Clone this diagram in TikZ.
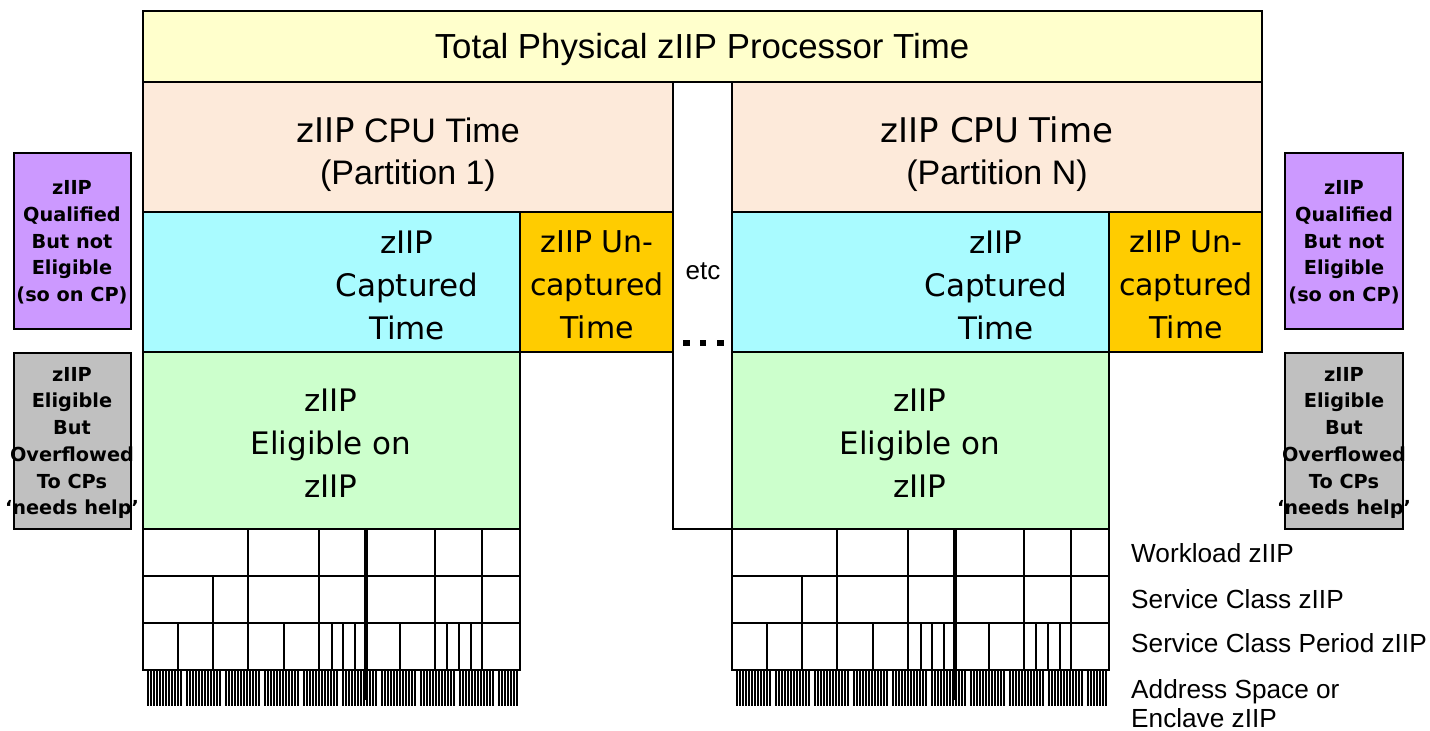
\documentclass[tikz,border=0pt]{standalone}
\usepackage{fontspec}
\setmainfont{Liberation Sans}
\newfontfamily\verd{DejaVu Sans}
\usetikzlibrary{fit}
\definecolor{cTop}{HTML}{FFFFCC}
\definecolor{cPart}{HTML}{FDEADA}
\definecolor{cCap}{HTML}{A9FBFF}
\definecolor{cUnc}{HTML}{FFCC00}
\definecolor{cElig}{HTML}{CCFFCC}
\definecolor{cQual}{HTML}{CC99FF}
\definecolor{cOver}{HTML}{C0C0C0}
\tikzset{
  blk/.style={draw=black, line width=2pt, inner sep=0pt},
  gridln/.style={line width=2.4pt, black},
  hatch/.style={line width=1.6pt, black},
  bigv/.style={font=\verd\fontsize{31}{43}\selectfont, align=center, inner sep=0pt},
  bigA/.style={font=\fontsize{34}{42}\selectfont, align=center, inner sep=0pt},
  side/.style={font=\verd\bfseries\fontsize{19.3}{26.7}\selectfont, align=center, inner sep=0pt},
  lab/.style={font=\fontsize{26.2}{30}\selectfont, anchor=base west, inner sep=0pt},
}
\begin{document}
\begin{tikzpicture}[x=1pt, y=-1pt]
\useasboundingbox (0,0) rectangle (1430,731);
% main blocks
\node[blk, fill=cTop, fit={(143,11) (1262,82)}] (top) {};
\node[blk, fill=white, fit={(673,82) (732,529)}] (etcbox) {};
\node[blk, fill=cPart, fit={(143,82) (673,212)}] (p1) {};
\node[blk, fill=cPart, fit={(732,82) (1262,212)}] (pN) {};
\node[blk, fill=cCap, fit={(143,212) (520,352)}] (cap1) {};
\node[blk, fill=cUnc, fit={(520,212) (673,352)}] (unc1) {};
\node[blk, fill=cElig, fit={(143,352) (520,529)}] (el1) {};
\node[blk, fill=cCap, fit={(732,212) (1109,352)}] (capN) {};
\node[blk, fill=cUnc, fit={(1109,212) (1262,352)}] (uncN) {};
\node[blk, fill=cElig, fit={(732,352) (1109,529)}] (elN) {};
% side boxes
\node[blk, fill=cQual, fit={(14,153) (131,329)}] (qL) {};
\node[blk, fill=cOver, fit={(14,353) (131,529)}] (oL) {};
\node[blk, fill=cQual, fit={(1285,153) (1403,329)}] (qR) {};
\node[blk, fill=cOver, fit={(1285,353) (1403,529)}] (oR) {};
% texts
\node[font=\fontsize{34.8}{40}\selectfont, inner sep=0pt] (tTop) at (702,50) {Total Physical zIIP Processor Time};
\node[bigA] (tP1) at (408,155) {{\verd\fontsize{34}{42}\selectfont zIIP} CPU Time\\(Partition 1)};
\node[bigA] (tPN) at (997,154) {{\verd\fontsize{34}{42}\selectfont zIIP CPU Time}\\(Partition N)};
\node[bigv] (tC1) at (407,285) {zIIP\\Captured\\Time};
\node[bigv] (tC2) at (996,285) {zIIP\\Captured\\Time};
\node[bigv, font=\verd\fontsize{30}{43}\selectfont] (tU1) at (597,285) {zIIP Un-\\captured\\Time};
\node[bigv, font=\verd\fontsize{30}{43}\selectfont] (tU2) at (1186,285) {zIIP Un-\\captured\\Time};
\node[bigv] (tE1) at (331,443) {zIIP\\Eligible on\\zIIP};
\node[bigv] (tE2) at (920,443) {zIIP\\Eligible on\\zIIP};
\node[font=\fontsize{26}{30}\selectfont, inner sep=0pt] (tEtc) at (703,271) {etc};
\node[side] (tqL) at (72,242.5) {zIIP\\Qualified\\But not\\Eligible\\(so on CP)};
\node[side] (toL) at (72,443) {zIIP\\Eligible\\But\\Overflowed\\To CPs\\‘needs help’};
\node[side] (tqR) at (1344,242.5) {zIIP\\Qualified\\But not\\Eligible\\(so on CP)};
\node[side] (toR) at (1344,443) {zIIP\\Eligible\\But\\Overflowed\\To CPs\\‘needs help’};
% dots
\foreach \dx in {683,699.5,717} \fill (\dx,339.5) rectangle ++(6.5,6.5);
% grids
\foreach \sh in {0,589}{
\begin{scope}[xshift=\sh pt]
  \foreach \i in {0,...,124}{
    \pgfmathtruncatemacro\m{mod(\i*7,13)}
    \ifnum\m>0
      \draw[hatch] ({145+\i*3},670) -- ({145+\i*3},706);
    \fi
  }
  \fill[white] (143,529) rectangle (520,670);
  \foreach \y in {529,576,623,670} \draw[gridln] (142,\y) -- (521,\y);
  \draw[gridln] (143,529) -- (143,670);
  \draw[gridln] (520,529) -- (520,670);
  \foreach \x in {248,319,435,482} \draw[gridln] (\x,529) -- (\x,576);
  \foreach \x in {213,248,319,435,482} \draw[gridln] (\x,576) -- (\x,623);
  \foreach \x in {178,213,248,284,319,332,343,355,400,435,447,459,471,482} \draw[gridln] (\x,623) -- (\x,670);
  \draw[line width=4pt] (366,529) -- (366,700);
\end{scope}
}
% labels
\node[lab] (l1) at (1131,562) {Workload zIIP};
\node[lab] (l2) at (1131,608) {Service Class zIIP};
\node[lab] (l3) at (1131,652) {Service Class Period zIIP};
\node[lab] (l4) at (1131,698) {Address Space or};
\node[lab] (l5) at (1131,727) {Enclave zIIP};
\end{tikzpicture}
\end{document}
